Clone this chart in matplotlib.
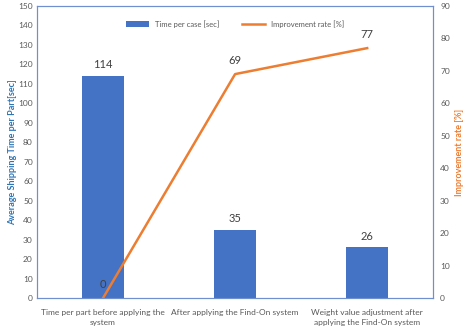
import numpy as np
import matplotlib.pyplot as plt

plt.rcParams['font.family'] = ['Lato', 'DejaVu Sans']

categories = ['Time per part before applying the\nsystem',
              'After applying the Find-On system',
              'Weight value adjustment after\napplying the Find-On system']
time_per_case = [114, 35, 26]
improvement = [0, 69, 77]

bar_color = '#4472C4'
line_color = '#ED7D31'
grey = '#595959'

fig = plt.figure(figsize=(4.65, 3.29), dpi=100)
ax = fig.add_axes([0.0796, 0.094, 0.852, 0.888])
ax2 = ax.twinx()

x = np.arange(len(categories))
bars = ax.bar(x, time_per_case, width=0.32, color=bar_color, label='Time per case [sec]', zorder=2)
ax.set_xlim(-0.5, 2.5)
ax.set_ylim(0, 150)
ax.set_yticks(np.arange(0, 151, 10))
ax.set_xticks(x)
ax.set_xticklabels(categories, fontsize=6, color=grey, linespacing=1.5)
ax.set_ylabel('Average Shipping Time per Part[sec]', fontsize=6.5, color='#2E75B6',
              fontweight='bold', labelpad=1)
for xi, v in zip(x, time_per_case):
    ax.text(xi, v + 3, str(v), ha='center', va='bottom', fontsize=8, color='#404040')

line, = ax2.plot(x, improvement, color=line_color, lw=1.8, label='Improvement rate [%]', zorder=3)
ax2.set_ylim(0, 90)
ax2.set_yticks(np.arange(0, 91, 10))
ax2.set_ylabel('Improvement rate [%]', fontsize=6.5, color=line_color,
               fontweight='bold', labelpad=4)
for xi, v in zip(x, improvement):
    ax2.text(xi, v + 2.5, str(v), ha='center', va='bottom', fontsize=8, color='#404040')

for a in (ax, ax2):
    a.tick_params(length=0, labelsize=6, colors=grey, pad=5)
    for s in a.spines.values():
        s.set_color('#6F8FCF')
        s.set_linewidth(0.8)
ax.tick_params(axis='y', pad=3)
ax.tick_params(axis='x', pad=8)

ax.legend([bars, line], ['Time per case [sec]', 'Improvement rate [%]'],
          loc='upper center', bbox_to_anchor=(0.5, 0.975), ncol=2, frameon=False,
          fontsize=5.5, handlelength=3, columnspacing=3, labelcolor=grey)

fig.savefig('out.png', dpi=100)
